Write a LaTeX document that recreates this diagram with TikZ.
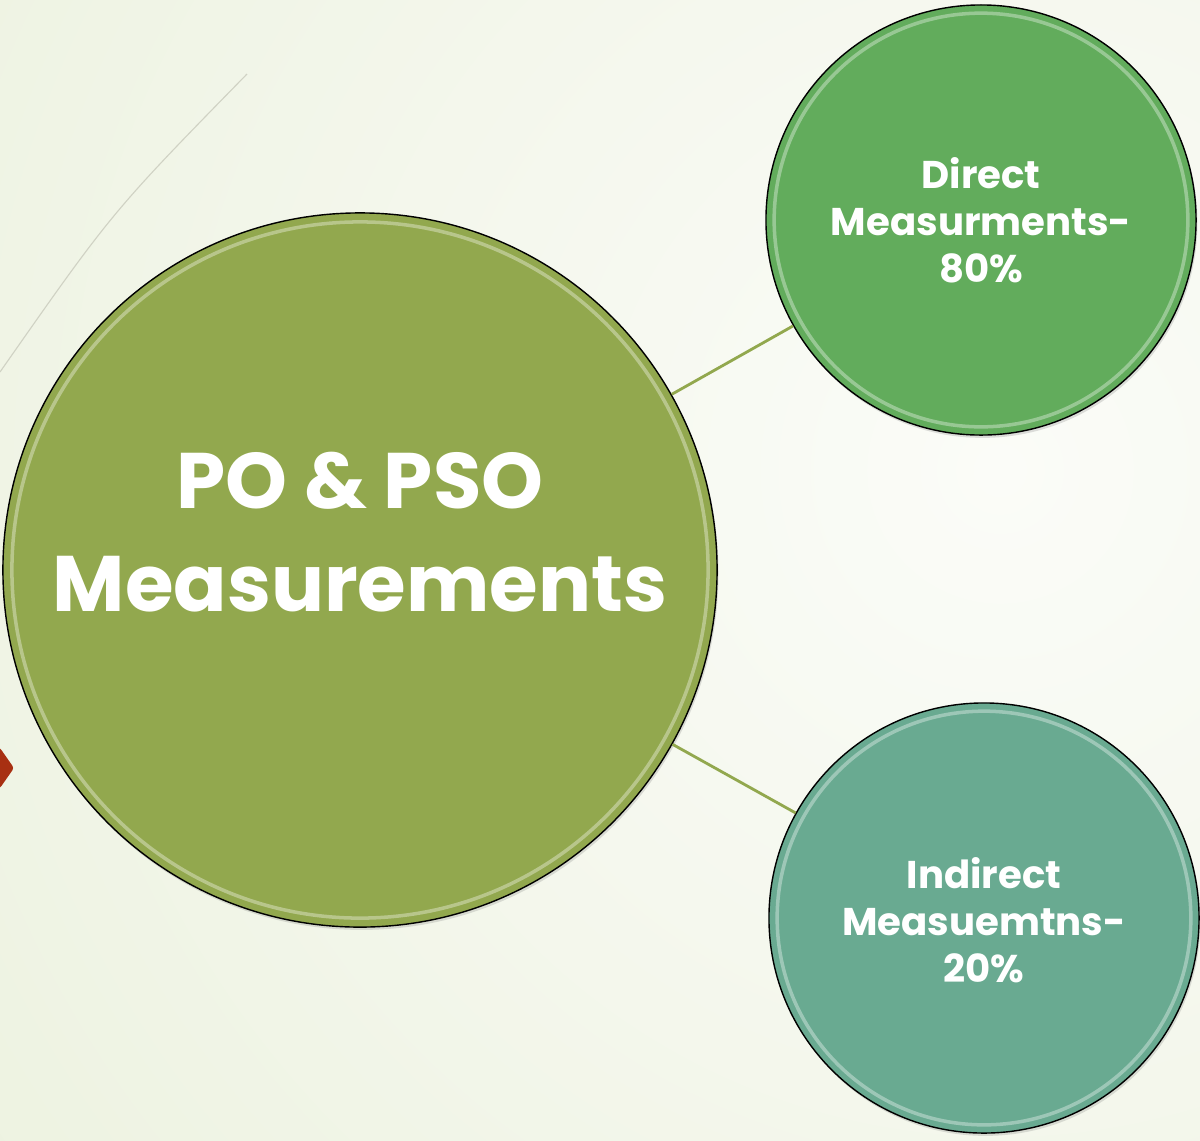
\documentclass[tikz,border=0pt]{standalone}
\usepackage{fontspec}
\setmainfont{Poppins}
\usetikzlibrary{shadows}

\definecolor{poGreen}{RGB}{146,168,78}
\definecolor{directGreen}{RGB}{98,172,92}
\definecolor{indirectTeal}{RGB}{105,170,145}
\definecolor{bgLight}{RGB}{251,252,248}
\definecolor{bgDark}{RGB}{224,233,203}
\definecolor{arcGray}{RGB}{208,210,196}
\definecolor{tipRed}{RGB}{168,48,18}

\tikzset{
  ball/.style={circle, draw=black, line width=1pt, inner sep=0pt,
    drop shadow={opacity=.25, shadow xshift=1pt, shadow yshift=-2pt}},
  rim/.style={path picture={\draw[white, opacity=.35, line width=2.5pt]
    (path picture bounding box.center) circle (#1);}},
  bigball/.style={ball, fill=poGreen, minimum size=17.85cm, rim=8.7cm},
  smallball/.style={ball, minimum size=10.75cm, rim=5.17cm},
  bigtext/.style={text=white, font=\bfseries\fontsize{56}{73}\selectfont, align=center},
  smalltext/.style={text=white, font=\bfseries\fontsize{27.5}{33.3}\selectfont, align=center},
  link/.style={draw=poGreen, line width=2pt}
}

\begin{document}
\begin{tikzpicture}[x=0.025cm, y=-0.025cm]
    \useasboundingbox (0,0) rectangle (1200,1140);
    % background
    \begin{scope}
        \clip (0,0) rectangle (1200,1140);
        \shade[inner color=bgLight, outer color=bgDark] (1000,470) circle (2400);
    \end{scope}
    \draw[arcGray, line width=.8pt] (0,372) .. controls (112,212) .. (247,74);
    \fill[tipRed, rounded corners=2pt] (-20,738) -- (0,748) -- (14,768) -- (0,788) -- (-20,798) -- cycle;
    % circles
    \node[bigball] (po) at (360,570) {};
    \node[bigtext] (potext) at (360,532) {PO \& PSO\\Measurements};
    \node[smallball, fill=directGreen] (direct) at (981,220) {};
    \node[smalltext] (directtext) at (981,220) {Direct\\Measurments-\\80\%};
    \node[smallball, fill=indirectTeal] (indirect) at (984,918) {};
    \node[smalltext] (indirecttext) at (984,920) {Indirect\\Measuemtns-\\20\%};
    % links
    \draw[link] (po) -- (direct);
    \draw[link] (po) -- (indirect);
\end{tikzpicture}
\end{document}
